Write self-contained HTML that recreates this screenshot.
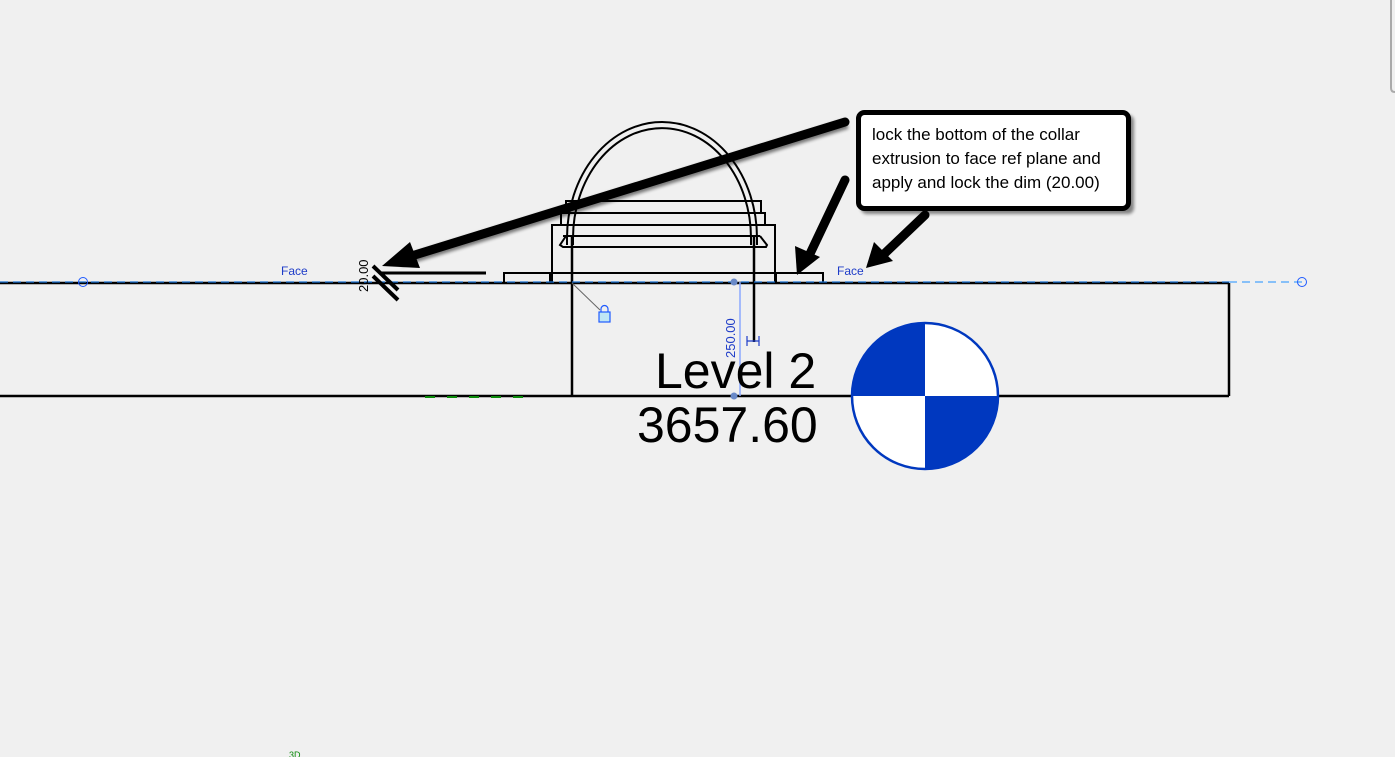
<!DOCTYPE html>
<html><head><meta charset="utf-8"><style>
html,body{margin:0;padding:0;background:#f0f0f0;}
svg{display:block}
text{font-family:"Liberation Sans",sans-serif}
</style></head><body>
<svg width="1395" height="757" viewBox="0 0 1395 757" xmlns="http://www.w3.org/2000/svg">
<defs>
<filter id="sh" x="-20%" y="-20%" width="140%" height="140%"><feGaussianBlur stdDeviation="1.5"/></filter>
</defs>
<rect width="1395" height="757" fill="#f0f0f0"/>
<path d="M1391 0 V88 Q1391 92 1395 92" fill="none" stroke="#aaa" stroke-width="2"/>
<g stroke="#000" stroke-width="2.5" fill="none">
<line x1="0" y1="283" x2="1229" y2="283"/>
<line x1="1229" y1="283" x2="1229" y2="396"/>
<line x1="0" y1="396" x2="1229" y2="396"/>
<line x1="572" y1="236" x2="572" y2="396"/>
<line x1="754" y1="236" x2="754" y2="342"/>
</g>
<g stroke="#0a8a0a" stroke-width="2" stroke-dasharray="10 12">
<line x1="425" y1="397" x2="535" y2="397"/>
</g>
<g stroke="#000" stroke-width="2" fill="none">
<path d="M567 245 V238 A95 116 0 0 1 757 238 V245"/>
<path d="M573 245 V238 A89 110 0 0 1 751 238 V245"/>
<rect x="566" y="201" width="195" height="12"/>
<rect x="561" y="213" width="204" height="12"/>
<rect x="552" y="225" width="223" height="58"/>
<line x1="563" y1="236" x2="760" y2="236"/>
<path d="M566 236 L560 245 L563 247 L766 247 L767 245 L760 236"/>
<rect x="504" y="273" width="319" height="10"/>
<line x1="550" y1="273" x2="550" y2="283"/>
<line x1="776" y1="273" x2="776" y2="283"/>
</g>
<line x1="0" y1="282" x2="1229" y2="282" stroke="#1a6fd0" stroke-width="1.2" stroke-dasharray="8 5"/>
<line x1="1229" y1="282" x2="1302" y2="282" stroke="#1e90ff" stroke-width="1" stroke-dasharray="8 5"/>
<circle cx="83" cy="282" r="4.5" fill="none" stroke="#1e5aff" stroke-width="1"/>
<circle cx="1302" cy="282" r="4.5" fill="none" stroke="#1e5aff" stroke-width="1"/>
<text x="281" y="275" font-size="12" fill="#1e3cc8">Face</text>
<text x="837" y="275" font-size="12" fill="#1e3cc8">Face</text>
<line x1="380" y1="273" x2="486" y2="273" stroke="#000" stroke-width="3"/>
<text transform="translate(368,292) rotate(-90)" font-size="13" fill="#000">20.00</text>
<g stroke="#000" stroke-width="4"><line x1="373" y1="266" x2="398" y2="290"/><line x1="373" y1="276" x2="398" y2="300"/></g>
<line x1="572" y1="283" x2="600" y2="310" stroke="#666" stroke-width="1"/>
<rect x="599" y="312" width="11" height="10" fill="#bfe6f5" stroke="#1e5aff" stroke-width="1.2"/>
<path d="M601 312 V309 A3.5 3.5 0 0 1 608 309 V312" fill="none" stroke="#1e5aff" stroke-width="1.2"/>
<line x1="740" y1="282" x2="740" y2="396" stroke="#8aa8ff" stroke-width="1.5"/>
<circle cx="734" cy="282" r="3.5" fill="#6a8ac8"/>
<circle cx="734" cy="396" r="3.5" fill="#6a8ac8"/>
<text transform="translate(735,358) rotate(-90)" font-size="13" fill="#1e3cc8">250.00</text>
<path d="M747 336 V346 M747 341 H759 M759 336 V346" stroke="#1e3cc8" stroke-width="1.2" fill="none"/>
<text x="655" y="388" font-size="50" fill="#000">Level 2</text>
<text x="637" y="442" font-size="50" fill="#000">3657.60</text>
<circle cx="925" cy="396" r="73" fill="#fff" stroke="#0038bf" stroke-width="2.5"/>
<path d="M925 396 V323 A73 73 0 0 0 852 396 Z" fill="#0038bf"/>
<path d="M925 396 V469 A73 73 0 0 0 998 396 Z" fill="#0038bf"/>
<g filter="url(#sh)" opacity="0.5">
<line x1="847" y1="124" x2="400" y2="262" stroke="#000" stroke-width="10"/>
</g>
<g stroke="#000" stroke-width="9" stroke-linecap="round" fill="#000">
<line x1="845" y1="122" x2="405" y2="258"/>
<line x1="845" y1="180" x2="808" y2="258"/>
<line x1="925" y1="215" x2="882" y2="256"/>
</g>
<polygon points="382,266 410,242 420,268" fill="#000"/>
<polygon points="797,275 795,246 820,257" fill="#000"/>
<polygon points="866,268 874,242 893,261" fill="#000"/>
<rect x="861" y="115" width="273" height="99" rx="6" fill="#000" opacity="0.45" filter="url(#sh)"/>
<rect x="858.5" y="112.5" width="270" height="96" rx="6" fill="#fff" stroke="#000" stroke-width="5"/>
<text font-size="17" fill="#000">
<tspan x="872" y="140">lock the bottom of the collar</tspan>
<tspan x="872" y="164">extrusion to face ref plane and</tspan>
<tspan x="872" y="188">apply and lock the dim (20.00)</tspan>
</text>
<text x="289" y="758" font-size="9" fill="#0a8a0a">3D</text>
</svg>
</body></html>
